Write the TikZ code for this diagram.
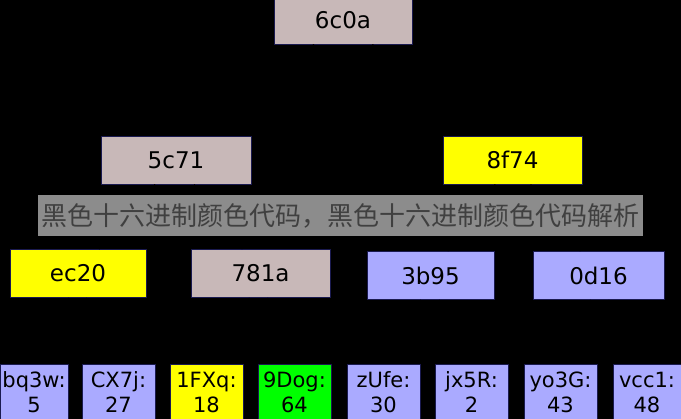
\documentclass[tikz,border=0pt]{standalone}
\usepackage{fontspec}
\setmainfont{DejaVu Sans}
\newfontfamily\cjk{Noto Sans CJK SC}
\usetikzlibrary{positioning}
\definecolor{hashgray}{HTML}{C8B8B8}
\definecolor{hashblue}{HTML}{AAAAFF}
\definecolor{hashyellow}{HTML}{FFFF00}
\definecolor{hashgreen}{HTML}{00FF00}
\definecolor{edgenavy}{HTML}{1A1A50}
\tikzset{
    hashbox/.style = {
        draw=edgenavy,
        shape=rectangle,
        line width=0.8pt,
        inner sep=0pt,
        font=\fontsize{23}{26}\selectfont
    },
    midbox/.style = {
        hashbox,
        minimum height=48,
        minimum width=138
    },
    leaf/.style = {
        hashbox,
        minimum height=56,
        minimum width=73,
        align=center,
        font=\fontsize{21}{25}\selectfont
    },
    link/.style = {
        draw=black,
        line width=1pt
    },
}
\begin{document}
\begin{tikzpicture}[x=1pt,y=-1pt]
    \fill[black] (0,0) rectangle (681,419);
    \useasboundingbox (0,0) rectangle (681,419);

    % root
    \node[midbox, fill=hashgray] (root) at (343, 20) {6c0a};

    % second level
    \node[midbox, fill=hashgray, minimum width=150] (h5c71) at (176, 160) {5c71};
    \node[midbox, fill=hashyellow, minimum width=139] (h8f74) at (512.5, 160) {8f74};

    % third level
    \node[midbox, fill=hashyellow, minimum width=136] (hec20) at (78, 273.5) {ec20};
    \node[midbox, fill=hashgray, minimum width=139] (h781a) at (260.5, 273.5) {781a};
    \node[midbox, fill=hashblue, minimum width=127] (h3b95) at (430.5, 275.5) {3b95};
    \node[midbox, fill=hashblue, minimum width=131] (h0d16) at (598.5, 275.5) {0d16};

    % leaves
    \node[leaf, fill=hashblue, minimum width=68] (bq3w) at (34, 392) {bq3w:\\5};
    \node[leaf, fill=hashblue] (cx7j) at (118.5, 392) {CX7j:\\27};
    \node[leaf, fill=hashyellow] (fxq) at (206.5, 392) {1FXq:\\18};
    \node[leaf, fill=hashgreen] (dog) at (294.5, 392) {9Dog:\\64};
    \node[leaf, fill=hashblue] (zufe) at (383.5, 392) {zUfe:\\30};
    \node[leaf, fill=hashblue] (jx5r) at (471.5, 392) {jx5R:\\2};
    \node[leaf, fill=hashblue] (yo3g) at (560.5, 392) {yo3G:\\43};
    \node[leaf, fill=hashblue, minimum width=68] (vcc1) at (647, 392) {vcc1:\\48};

    \path[link] (root) -- (h5c71);
    \path[link] (root) -- (h8f74);
    \path[link] (h5c71) -- (hec20);
    \path[link] (h5c71) -- (h781a);
    \path[link] (h8f74) -- (h3b95);
    \path[link] (h8f74) -- (h0d16);
    \path[link] (hec20) -- (bq3w);
    \path[link] (hec20) -- (cx7j);
    \path[link] (h781a) -- (fxq);
    \path[link] (h781a) -- (dog);
    \path[link] (h3b95) -- (zufe);
    \path[link] (h3b95) -- (jx5r);
    \path[link] (h0d16) -- (yo3g);
    \path[link] (h0d16) -- (vcc1);

    % caption band
    \node[fill=black!45, minimum width=605, minimum height=41, inner sep=0pt,
          text=black!75, font=\cjk\fontsize{26}{28}\selectfont] (band) at (340.5, 215.5)
          {黑色十六进制颜色代码，黑色十六进制颜色代码解析};
\end{tikzpicture}
\end{document}
